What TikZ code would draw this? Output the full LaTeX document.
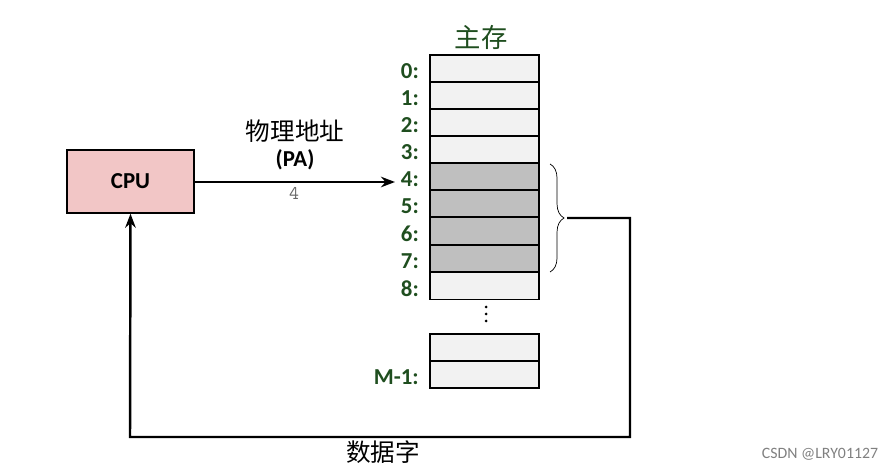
\documentclass[tikz,border=0pt]{standalone}
\usepackage{fontspec}
\setmainfont{Carlito}
\newfontfamily\cjk{Noto Sans CJK SC}
\usetikzlibrary{decorations.pathreplacing,arrows.meta}
\definecolor{dg}{HTML}{1F4E1F}
\definecolor{cpuf}{HTML}{F2C6C6}
\tikzset{cell/.style={draw,fill=gray!10,minimum width=109*0.02cm,minimum height=27*0.02cm,inner sep=0,line width=0.8pt},
gcell/.style={cell,fill=gray!50},
lbl/.style={anchor=east,text=dg,font=\fontsize{13}{15}\selectfont\bfseries},
wire/.style={line width=1.4pt}}
\begin{document}
\begin{tikzpicture}[x=0.02cm,y=-0.02cm]
\useasboundingbox (0,0) rectangle (892,469);
\foreach \i/\y in {0/68.5,1/95.5,2/122.5,3/149.5,4/176.5,5/203.5,6/231,7/258.5,8/286}{
  \pgfmathtruncatemacro\g{(\i>3)&&(\i<8)}
  \ifnum\g=1 \node[gcell] (m\i) at (484.5,\y) {};\else \node[cell] (m\i) at (484.5,\y) {};\fi
  \node[lbl] (l\i) at (425,\y+3) {\i:};
}
\node[cell] (ma) at (484.5,347.5) {};
\node[cell] (mb) at (484.5,374.5) {};
\node[lbl] (lm) at (425,377) {M-1:};
\foreach \k in {307,314,321} \fill (486,\k) circle (1.5);
\node[text=dg,font=\cjk\fontsize{15}{17}\selectfont] (zc) at (481,37) {主存};
\node[draw,fill=cpuf,line width=0.8pt,minimum width=127*0.02cm,minimum height=63*0.02cm,font=\fontsize{13}{15}\selectfont\bfseries] (cpu) at (130.5,181.5) {CPU};
\coordinate (ae) at (395,182);
\draw[wire,-{Stealth[length=8pt]}] (cpu.east|-ae) -- (ae);
\node[font=\cjk\fontsize{14}{16}\selectfont] (pa1) at (295,131) {物理地址};
\node[font=\fontsize{13}{15}\selectfont\bfseries] (pa2) at (295,160) {(PA)};
\node[text=gray!80!black,font=\ttfamily\fontsize{11}{13}\selectfont] (four) at (294,193) {4};
\draw[decorate,decoration={brace,amplitude=8pt}] (550,164) -- (550,272);
\coordinate (b1) at (567,218);
\coordinate (b2) at (630,218);
\coordinate (b3) at (630,437);
\coordinate (b4) at (130,437);
\draw[wire,-{Stealth[length=8pt]}] (b1) -- (b2) -- (b3) -- (b4) -- (cpu.south);
\node[font=\cjk\fontsize{14}{16}\selectfont] (sj) at (383,452) {数据字};
\node[text=gray,font=\fontsize{9}{11}\selectfont] (wm) at (820,454) {CSDN @LRY01127};
\end{tikzpicture}
\end{document}
